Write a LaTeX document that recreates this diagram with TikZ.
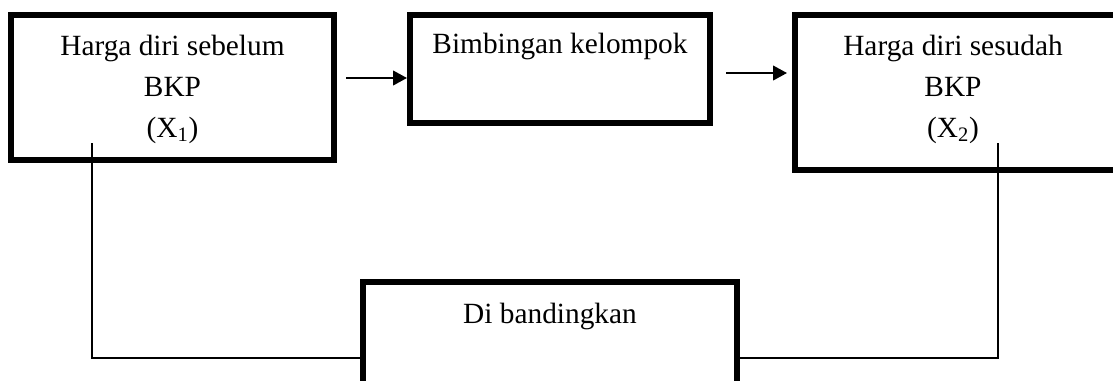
\documentclass[tikz,border=0pt]{standalone}
\usepackage{fontspec}
\setmainfont{Liberation Serif}
\usetikzlibrary{arrows.meta}
\begin{document}
\begin{tikzpicture}[x=0.75pt,y=-0.75pt,
  box/.style 2 args={draw=black,line width=4.5pt,fill=none,inner sep=0pt,
    minimum width=#1*0.75pt,minimum height=#2*0.75pt},
  txt/.style={anchor=base,inner sep=0pt,font=\fontsize{22}{28}\selectfont},
  flow/.style={line width=1.5pt,-{Triangle[length=10.5pt,width=11pt]}},
  conn/.style={line width=1.1pt}]
\useasboundingbox (0,0) rectangle (1113,380);
\clip (0,0) rectangle (1113,380);

% boxes (sizes in pixel units)
\node[box={323}{145}] (b1) at (172.5,87.5) {};
\node[box={300}{108}] (b2) at (560,69) {};
\node[box={323}{155}] (b3) at (956.5,92.5) {};
\node[box={374}{148}] (b4) at (550,356) {};

% box texts
\node[txt] (t1a) at (172.5,55) {Harga diri sebelum};
\node[txt] (t1b) at (172.5,96) {BKP};
\node[txt] (t1c) at (172.5,137) {(X\textsubscript{1})};
\node[txt] (t2) at (560,53) {Bimbingan kelompok};
\node[txt] (t3a) at (953,55) {Harga diri sesudah};
\node[txt] (t3b) at (953,96) {BKP};
\node[txt] (t3c) at (953,137) {(X\textsubscript{2})};
\node[txt] (t4) at (550,323) {Di bandingkan};

% flow arrows
\coordinate (a1) at (346,78);
\coordinate (a2) at (726,73);
\coordinate (a2e) at (787,73);
\draw[flow] (a1) -- (a1 -| b2.west);
\draw[flow] (a2) -- (a2e);

% comparison connectors
\coordinate (c1) at (92,143);
\coordinate (j1) at (92,358);
\coordinate (c2) at (998,143);
\coordinate (j2) at (998,358);
\draw[conn] (c1) -- (j1) -- (j1 -| b4.west);
\draw[conn] (c2) -- (j2) -- (j2 -| b4.east);
\end{tikzpicture}
\end{document}
